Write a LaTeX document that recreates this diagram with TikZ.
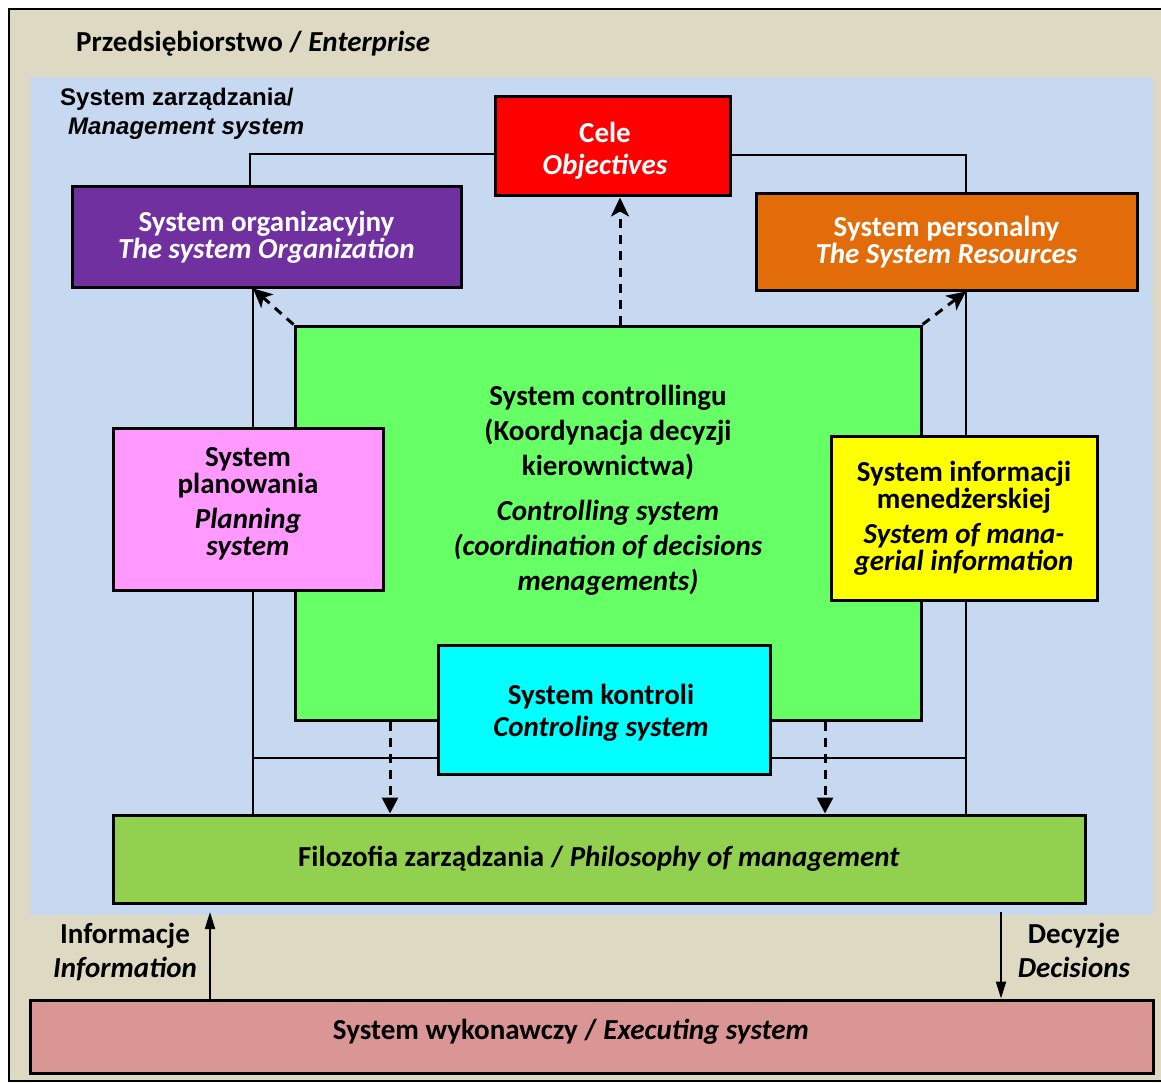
\documentclass[tikz,border=0pt]{standalone}
\usepackage{fontspec}
\setmainfont{Carlito}
\newfontfamily\arialfont{Liberation Sans}
\usetikzlibrary{arrows.meta}
\pgfdeclarelayer{back}
\pgfdeclarelayer{wires}
\pgfsetlayers{back,wires,main}

\definecolor{tanbg}{HTML}{DDD9C3}
\definecolor{bluebg}{HTML}{C6D9F1}
\definecolor{celered}{HTML}{FF0000}
\definecolor{orgpurple}{HTML}{7030A0}
\definecolor{persorange}{HTML}{E36C0A}
\definecolor{ctrlgreen}{HTML}{66FF66}
\definecolor{planpink}{HTML}{FF99FF}
\definecolor{infoyellow}{HTML}{FFFF00}
\definecolor{kontcyan}{HTML}{00FFFF}
\definecolor{philogreen}{HTML}{92D050}
\definecolor{execrose}{HTML}{D99694}

\begin{document}
\begin{tikzpicture}[x=1pt,y=-1pt,
  box/.style={draw=black, line width=3pt, inner sep=0pt, align=center,
    font=\bfseries\fontsize{29}{27}\selectfont},
  plaintext/.style={inner sep=0pt, align=center,
    font=\bfseries\fontsize{29}{34}\selectfont},
  conn/.style={line width=2pt},
  dashup/.style={line width=3pt, dash pattern=on 9pt off 7pt,
    -{Stealth[length=19pt,width=18pt,inset=5pt]}},
  dashdown/.style={line width=3pt, dash pattern=on 9pt off 7pt,
    -{Triangle[length=16pt,width=16pt]}},
  solidarrow/.style={line width=2pt, -{Triangle[length=17pt,width=10pt]}},
]
\useasboundingbox (0,0) rectangle (1161,1083);

% backgrounds: enterprise frame and management system area
\begin{pgfonlayer}{back}
  \fill[white] (0,0) rectangle (1161,1083);
  \filldraw[fill=tanbg, draw=black, line width=2.5pt] (9,9) rectangle (1175,1081);
  \fill[bluebg] (30,77) rectangle (1153,915);
\end{pgfonlayer}

% headings
\node[anchor=base west, inner sep=0pt, font=\bfseries\fontsize{29}{34}\selectfont]
  (title) at (76,52) {Przedsiębiorstwo / \textit{Enterprise}};
\node[anchor=base west, inner sep=0pt, align=left,
  font=\arialfont\bfseries\fontsize{24}{29}\selectfont]
  (mgmt) at (60,135) {System zarządzania/\\\hspace*{8pt}\textit{Management system}};

% system boxes
\node[box, fill=celered, minimum width=235pt, minimum height=99pt]
  (cele) at (612.5,146.5) {};
\node[plaintext, text=white, font=\bfseries\fontsize{29}{32}\selectfont]
  (celetxt) at (605,151) {Cele\\\textit{Objectives}};
\node[box, fill=orgpurple, text=white, minimum width=389pt, minimum height=100pt]
  (org) at (266.5,237) {System organizacyjny\\\textit{The system Organization}};
\node[box, fill=persorange, text=white, minimum width=381pt, minimum height=96pt]
  (pers) at (946.5,242) {System personalny\\\textit{The System Resources}};
\node[box, fill=ctrlgreen, minimum width=626pt, minimum height=394pt]
  (ctrl) at (608,523) {};
\node[plaintext, font=\bfseries\fontsize{29}{35}\selectfont]
  (ctrltxt) at (608,490) {System controllingu\\(Koordynacja decyzji\\kierownictwa)\\[10pt]
  \textit{Controlling system}\\\textit{(coordination of decisions}\\\textit{menagements)}};
\node[box, fill=planpink, minimum width=270pt, minimum height=162pt]
  (plan) at (248,509) {};
\node[plaintext, font=\bfseries\fontsize{29}{27}\selectfont]
  (plantxt) at (248,504) {System\\planowania\\[8pt]\textit{Planning}\\\textit{system}};
\node[box, fill=infoyellow, minimum width=266pt, minimum height=164pt]
  (info) at (964,518) {System informacji\\menedżerskiej\\[8pt]\textit{System of mana-}\\\textit{gerial information}};
\node[box, fill=kontcyan, minimum width=332pt, minimum height=129pt]
  (kont) at (604,709.5) {};
\node[plaintext, font=\bfseries\fontsize{29}{27}\selectfont]
  (konttxt) at (601,713) {System kontroli\\[5pt]\textit{Controling system}};
\node[box, fill=philogreen, minimum width=972pt, minimum height=88pt]
  (philo) at (599,859) {Filozofia zarządzania / \textit{Philosophy of management}};
\node[box, fill=execrose, minimum width=1123pt, minimum height=73pt]
  (exec) at (591.5,1036.5) {};
\node[plaintext] (exectxt) at (571,1032) {System wykonawczy / \textit{Executing system}};

% flow labels
\node[plaintext] (inflab) at (125,952) {Informacje\\\textit{Information}};
\node[plaintext] (declab) at (1074,950) {Decyzje\\\textit{Decisions}};

% guide coordinates for the connectors
\coordinate (lxt) at (250,0);
\coordinate (lx) at (253,0);
\coordinate (rx) at (966,0);
\coordinate (hl) at (0,758);
\coordinate (up) at (620,0);
\coordinate (dl) at (390,0);
\coordinate (dr) at (825,0);
\coordinate (ia) at (210,912);
\coordinate (da) at (1001,912);

% structural lines behind the boxes
\begin{pgfonlayer}{wires}
  \draw[conn] ([yshift=-7.5pt]cele.west) -| (org.north -| lxt);
  \draw[conn] ([yshift=-8.5pt]cele.east) -| (pers.north -| rx);
  \draw[conn] (org.south -| lx) -- (philo.north -| lx);
  \draw[conn] (pers.south -| rx) -- (philo.north -| rx);
  \draw[conn] (lx |- hl) -- (kont.west |- hl);
  \draw[conn] (kont.east |- hl) -- (rx |- hl);
\end{pgfonlayer}

% coordination arrows from the controlling system
\draw[dashup] (ctrl.north -| up) -- (cele.south -| up);
\draw[dashup] (ctrl.north west) -- (org.south -| lx);
\draw[dashup] (ctrl.north east) -- (pers.south -| rx);
\draw[dashdown] (ctrl.south -| dl) -- (philo.north -| dl);
\draw[dashdown] (ctrl.south -| dr) -- (philo.north -| dr);

% information and decision flows
\draw[solidarrow] (exec.north -| ia) -- (ia);
\draw[solidarrow] (da) -- (exec.north -| da);
\end{tikzpicture}
\end{document}
